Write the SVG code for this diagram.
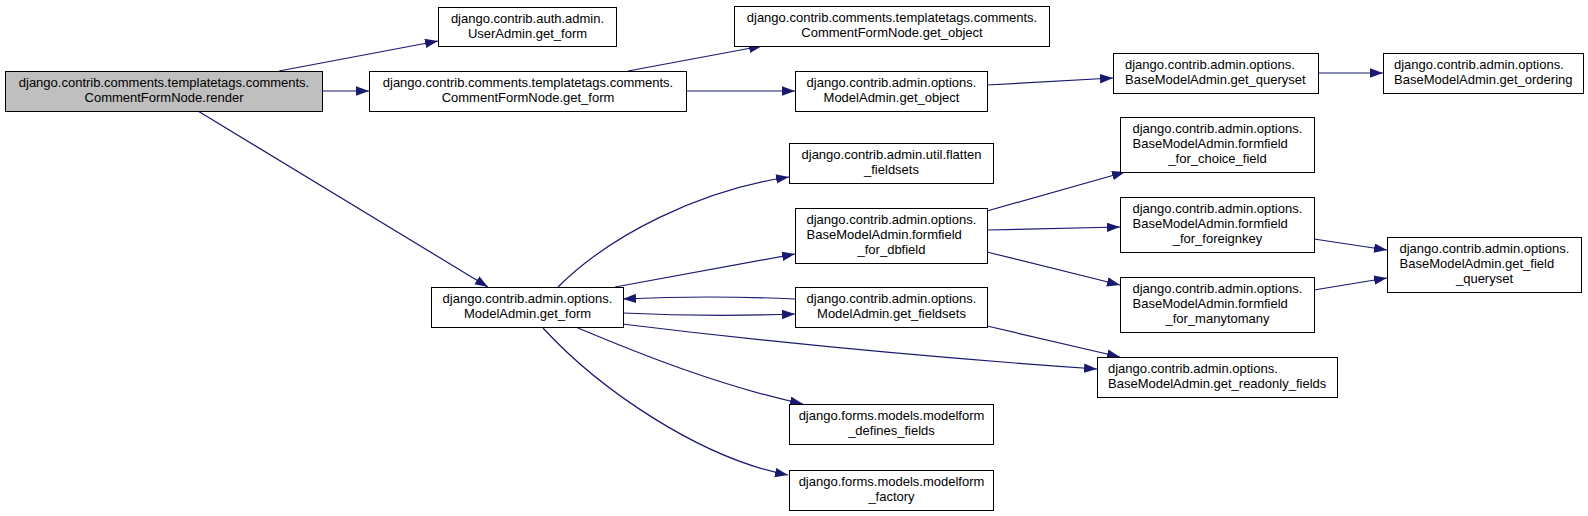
<svg xmlns="http://www.w3.org/2000/svg" width="1588" height="516" viewBox="0 0 1588 516">
<style>
.n rect{fill:#ffffff;stroke:#000000;stroke-width:1}
.n.root rect{fill:#bfbfbf}
.n text{font-family:"Liberation Sans",Arial,Helvetica,sans-serif;font-size:13px;fill:#000000}
.c{text-anchor:middle}
.l{text-anchor:start}
#edges path{fill:none;stroke:#191970;stroke-width:1.2;marker-end:url(#ah)}
</style>
<defs>
<marker id="ah" markerWidth="14" markerHeight="10" refX="13" refY="4.7" orient="auto" markerUnits="userSpaceOnUse">
<path d="M0,0 L13,4.7 L0,9.4 z" fill="#191970" stroke="none"/>
</marker>
</defs>
<rect width="1588" height="516" fill="#ffffff"/>
<g id="edges">
<path d="M279,71 L438,41"/>
<path d="M322,91 L369,91"/>
<path d="M198,111 L488,287"/>
<path d="M628,71 L762,46"/>
<path d="M686,91 L795,91"/>
<path d="M987,85 L1113,78"/>
<path d="M1318,73 L1383,73"/>
<path d="M558,287 C610,235 700,190 789,177"/>
<path d="M615,287 L795,254"/>
<path d="M795,299 Q709,295 623,299"/>
<path d="M623,313 Q709,317 795,314"/>
<path d="M622,324 Q850,352 1097,369"/>
<path d="M987,326 L1120,357"/>
<path d="M578,328 C640,354 720,386 803,404"/>
<path d="M543,328 C600,390 700,458 788,475"/>
<path d="M987,211 L1125,172"/>
<path d="M987,230 L1120,227"/>
<path d="M987,252 L1120,285"/>
<path d="M1314,239 L1387,250"/>
<path d="M1314,290 L1387,278"/>
</g>
<g id="render" class="n root"><rect x="5.5" y="71.5" width="317" height="40"/><text class="c" x="164" y="86.5">django.contrib.comments.templatetags.comments.</text><text class="c" x="164" y="101.5">CommentFormNode.render</text></g>
<g id="useradmin_get_form" class="n"><rect x="438.5" y="7.5" width="178" height="39"/><text class="c" x="527.5" y="22.5">django.contrib.auth.admin.</text><text class="c" x="527.5" y="37.5">UserAdmin.get_form</text></g>
<g id="cfn_get_form" class="n"><rect x="369.5" y="71.5" width="317" height="40"/><text class="c" x="528" y="86.5">django.contrib.comments.templatetags.comments.</text><text class="c" x="528" y="101.5">CommentFormNode.get_form</text></g>
<g id="cfn_get_object" class="n"><rect x="734.5" y="6.5" width="315" height="40"/><text class="c" x="892" y="21.5">django.contrib.comments.templatetags.comments.</text><text class="c" x="892" y="36.5">CommentFormNode.get_object</text></g>
<g id="ma_get_object" class="n"><rect x="795.5" y="71.5" width="192" height="40"/><text class="c" x="891.5" y="86.5">django.contrib.admin.options.</text><text class="c" x="891.5" y="101.5">ModelAdmin.get_object</text></g>
<g id="bma_get_queryset" class="n"><rect x="1113.5" y="53.5" width="205" height="40"/><text class="l" x="1125" y="68.5">django.contrib.admin.options.</text><text class="l" x="1125" y="83.5">BaseModelAdmin.get_queryset</text></g>
<g id="bma_get_ordering" class="n"><rect x="1383.5" y="53.5" width="200" height="40"/><text class="l" x="1394" y="68.5">django.contrib.admin.options.</text><text class="l" x="1394" y="83.5">BaseModelAdmin.get_ordering</text></g>
<g id="flatten_fieldsets" class="n"><rect x="789.5" y="143.5" width="204" height="40"/><text class="c" x="891.5" y="158.5">django.contrib.admin.util.flatten</text><text class="c" x="891.5" y="173.5">_fieldsets</text></g>
<g id="formfield_for_dbfield" class="n"><rect x="795.5" y="208.5" width="192" height="55"/><text class="l" x="806.5" y="223.5">django.contrib.admin.options.</text><text class="l" x="806.5" y="238.5">BaseModelAdmin.formfield</text><text class="c" x="891.5" y="253.5">_for_dbfield</text></g>
<g id="formfield_for_choice_field" class="n"><rect x="1120.5" y="117.5" width="194" height="55"/><text class="l" x="1132.5" y="132.5">django.contrib.admin.options.</text><text class="l" x="1132.5" y="147.5">BaseModelAdmin.formfield</text><text class="c" x="1217.5" y="162.5">_for_choice_field</text></g>
<g id="formfield_for_foreignkey" class="n"><rect x="1120.5" y="197.5" width="194" height="55"/><text class="l" x="1132.5" y="212.5">django.contrib.admin.options.</text><text class="l" x="1132.5" y="227.5">BaseModelAdmin.formfield</text><text class="c" x="1217.5" y="242.5">_for_foreignkey</text></g>
<g id="formfield_for_manytomany" class="n"><rect x="1120.5" y="277.5" width="194" height="55"/><text class="l" x="1132.5" y="292.5">django.contrib.admin.options.</text><text class="l" x="1132.5" y="307.5">BaseModelAdmin.formfield</text><text class="c" x="1217.5" y="322.5">_for_manytomany</text></g>
<g id="get_field_queryset" class="n"><rect x="1387.5" y="237.5" width="194" height="55"/><text class="l" x="1399.5" y="252.5">django.contrib.admin.options.</text><text class="l" x="1399.5" y="267.5">BaseModelAdmin.get_field</text><text class="c" x="1484.5" y="282.5">_queryset</text></g>
<g id="ma_get_form" class="n"><rect x="431.5" y="287.5" width="192" height="40"/><text class="c" x="527.5" y="302.5">django.contrib.admin.options.</text><text class="c" x="527.5" y="317.5">ModelAdmin.get_form</text></g>
<g id="ma_get_fieldsets" class="n"><rect x="795.5" y="287.5" width="192" height="40"/><text class="c" x="891.5" y="302.5">django.contrib.admin.options.</text><text class="c" x="891.5" y="317.5">ModelAdmin.get_fieldsets</text></g>
<g id="get_readonly_fields" class="n"><rect x="1097.5" y="357.5" width="240" height="40"/><text class="l" x="1108" y="372.5">django.contrib.admin.options.</text><text class="l" x="1108" y="387.5">BaseModelAdmin.get_readonly_fields</text></g>
<g id="modelform_defines_fields" class="n"><rect x="789.5" y="404.5" width="204" height="40"/><text class="c" x="891.5" y="419.5">django.forms.models.modelform</text><text class="c" x="891.5" y="434.5">_defines_fields</text></g>
<g id="modelform_factory" class="n"><rect x="789.5" y="470.5" width="204" height="40"/><text class="c" x="891.5" y="485.5">django.forms.models.modelform</text><text class="c" x="891.5" y="500.5">_factory</text></g>
</svg>
